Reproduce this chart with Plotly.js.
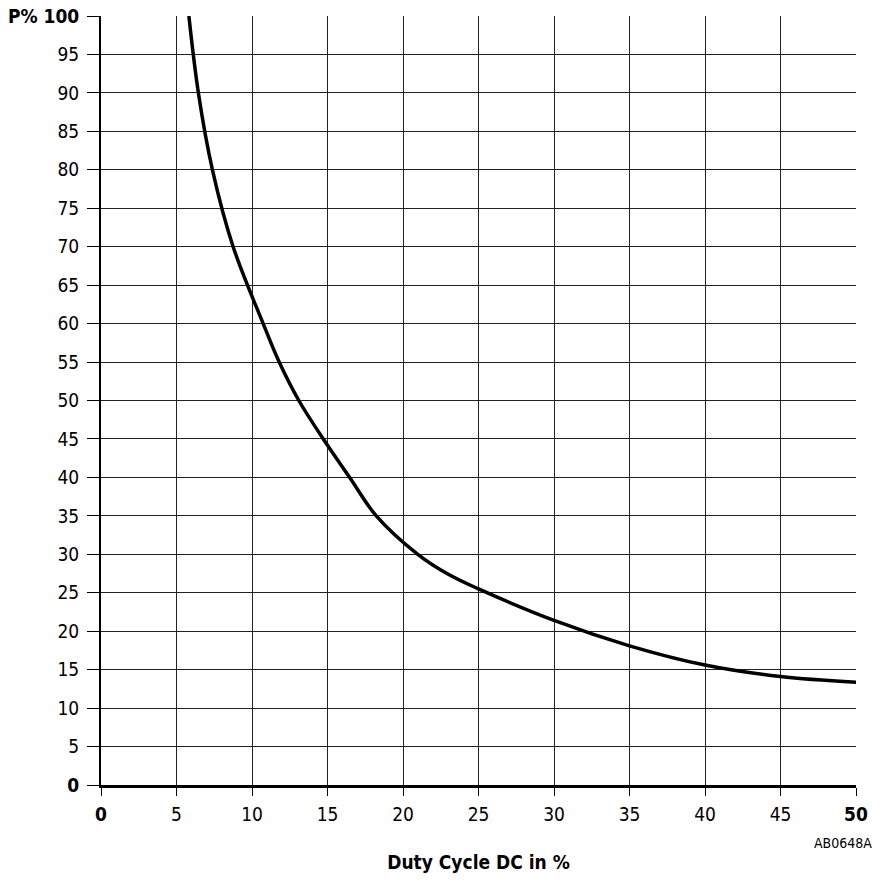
<!DOCTYPE html>
<html>
<head>
<meta charset="utf-8">
<script src="https://cdn.plot.ly/plotly-3.0.1.min.js"></script>
<style>html,body{margin:0;padding:0;background:#fff;}#chart{width:884px;height:882px;}</style>
</head>
<body>
<div id="chart"></div>
<script>
const dutyCycle = [5.82, 6.45, 7.38, 8.75, 10.74, 11.8, 13.1, 14.72, 16.47, 18.23, 20.98, 23, 25, 30, 35, 40, 45, 50];
const powerPct  = [100, 90, 80, 70, 60, 55, 50, 45, 40, 35, 30, 27.4, 25.5, 21.4, 18.1, 15.6, 14.1, 13.35];
const xTickVals = [0, 5, 10, 15, 20, 25, 30, 35, 40, 45, 50];
const xTickText = ['<b>0</b>', '5', '10', '15', '20', '25', '30', '35', '40', '45', '<b>50</b>'];
const yTickVals = [0, 5, 10, 15, 20, 25, 30, 35, 40, 45, 50, 55, 60, 65, 70, 75, 80, 85, 90, 95, 100];
const yTickText = ['<b>0</b>', '5', '10', '15', '20', '25', '30', '35', '40', '45', '50', '55', '60', '65', '70', '75', '80', '85', '90', '95', '<b>P% 100</b>'];
const xTitle = 'Duty Cycle DC in %';
const figCode = 'AB0648A';

const FONT = '"DejaVu Sans Condensed", "Liberation Sans Narrow", "Arial Narrow", sans-serif';

const trace = {
  x: dutyCycle, y: powerPct, type: 'scatter', mode: 'lines',
  line: {color: '#000', width: 3.5, shape: 'spline', smoothing: 1},
  hoverinfo: 'skip', showlegend: false
};

const layout = {
  width: 884, height: 882,
  margin: {l: 101, r: 28, t: 16, b: 97},
  paper_bgcolor: '#fff', plot_bgcolor: '#fff',
  font: {family: FONT, size: 19, color: '#000'},
  xaxis: {
    range: [0, 50], tickvals: xTickVals, ticktext: xTickText,
    showgrid: true, gridcolor: '#222', gridwidth: 1, zeroline: false,
    showline: true, linecolor: '#000', linewidth: 3,
    ticks: 'outside', ticklen: 8, tickcolor: '#000', tickwidth: 1,
    ticklabelstandoff: 2,
    tickfont: {family: FONT, size: 19, color: '#000'},
    fixedrange: true,
    title: {text: '<b>' + xTitle + '</b>', font: {family: FONT, size: 19, color: '#000'}, standoff: 32}
  },
  yaxis: {
    range: [0, 100], tickvals: yTickVals, ticktext: yTickText,
    showgrid: true, gridcolor: '#222', gridwidth: 1, zeroline: false,
    showline: true, linecolor: '#000', linewidth: 2,
    ticks: 'outside', ticklen: 12, tickcolor: '#000', tickwidth: 1,
    ticklabelstandoff: 4,
    tickfont: {family: FONT, size: 19, color: '#000'},
    fixedrange: true
  },
  annotations: [{
    text: figCode, xref: 'paper', yref: 'paper', x: 1.024, y: -0.075,
    xanchor: 'right', yanchor: 'middle', showarrow: false,
    font: {family: FONT, size: 14, color: '#000'}
  }]
};

Plotly.newPlot('chart', [trace], layout, {displayModeBar: false, staticPlot: true});
</script>
</body>
</html>
